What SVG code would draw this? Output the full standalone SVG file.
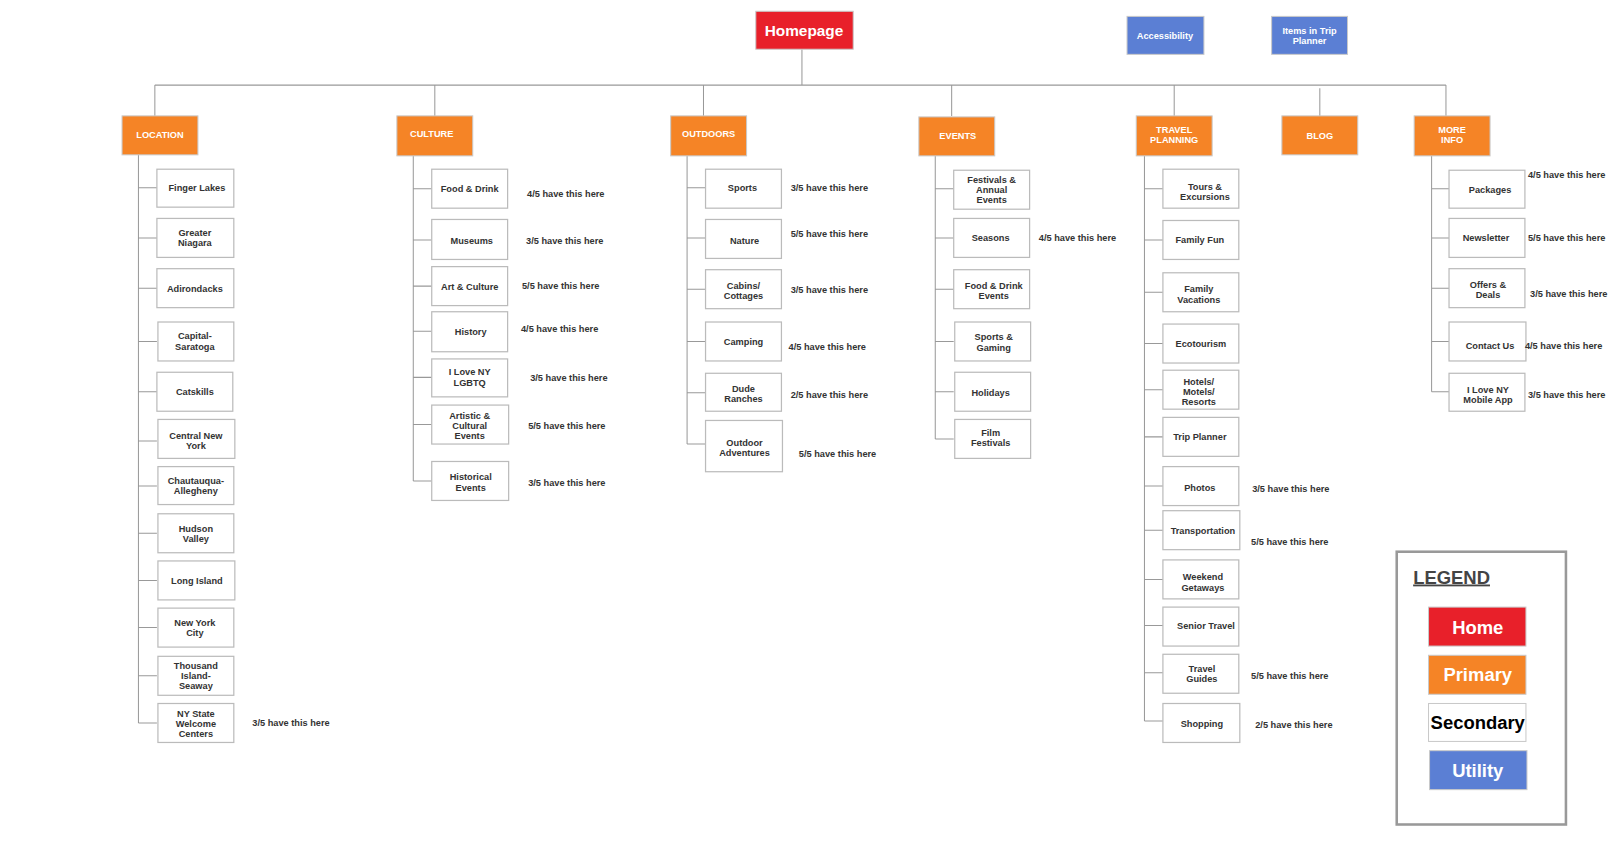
<svg xmlns="http://www.w3.org/2000/svg" width="1608" height="857" viewBox="0 0 1608 857">
<style>
text{font-family:"Liberation Sans",Arial,sans-serif;font-weight:bold;text-anchor:middle}
.s rect{fill:#fff;stroke:#bbb;stroke-width:1.2}
.s text{font-size:9px;fill:#333}
.p rect{fill:#f58426;stroke:#c9c9c9;stroke-width:1}
.p text{font-size:9px;fill:#fff}
.u rect{fill:#5b7fd4;stroke:#c9c9c9}
.u text{font-size:9px;fill:#fff}
.n{font-size:9px;fill:#333;text-anchor:start}
#conn path{stroke:#999;stroke-width:1;fill:none}
</style>
<rect width="1608" height="857" fill="#fff"/>
<g transform="scale(1.0255)">
<g id="conn">
<path d="M782 48V83M151 83H1410M151 83V113M424 83V113M686 83V113M928 83V113M1145 83V113M1287 86V113M1410 83V113"/>
<path d="M135 151V705M135 183H153M135 232H153M135 281H153M135 333H153M135 382H153M135 430H153M135 474H153M135 520H153M135 566H153M135 612H153M135 659H153M135 705H153"/>
<path d="M403 152V469M403 184H421M403 234H421M403 279H421M403 323H421M403 368H421M403 414H421M403 469H421"/>
<path d="M670 152V433M670 183H688M670 232H688M670 282H688M670 333H688M670 383H688M670 433H688"/>
<path d="M912 152V428M912 184H930M912 232H930M912 282H930M912 333H930M912 382H930M912 428H930"/>
<path d="M1116 152V703M1116 184H1134M1116 234H1134M1116 285H1134M1116 335H1134M1116 380H1134M1116 426H1134M1116 474H1134M1116 517H1134M1116 565H1134M1116 610H1134M1116 656H1134M1116 703H1134"/>
<path d="M1396 152V382M1396 184H1413M1396 232H1413M1396 281H1413M1396 333H1413M1396 382H1413"/>
</g>
<g id="homepage"><rect x="737" y="11" width="95" height="37" fill="#e8202a" stroke="#c9c9c9"/><text x="784" y="35" font-size="15" fill="#fff">Homepage</text></g>
<g id="accessibility" class="u"><rect x="1099" y="16" width="75" height="37"/><text x="1136" y="38">Accessibility</text></g>
<g id="trip-items" class="u"><rect x="1240" y="16" width="74" height="37"/><text x="1277" y="33">Items in Trip</text><text x="1277" y="43">Planner</text></g>
<g id="location" class="p"><rect x="119" y="113" width="74" height="38"/><text x="156" y="135">LOCATION</text></g>
<g id="culture" class="p"><rect x="387" y="113" width="74" height="39"/><text x="421" y="134">CULTURE</text></g>
<g id="outdoors" class="p"><rect x="654" y="113" width="74" height="39"/><text x="691" y="134">OUTDOORS</text></g>
<g id="events" class="p"><rect x="896" y="114" width="74" height="38"/><text x="934" y="136">EVENTS</text></g>
<g id="travel" class="p"><rect x="1108" y="113" width="74" height="39"/><text x="1145" y="130">TRAVEL</text><text x="1145" y="139">PLANNING</text></g>
<g id="blog" class="p"><rect x="1250" y="113" width="74" height="38"/><text x="1287" y="136">BLOG</text></g>
<g id="moreinfo" class="p"><rect x="1379" y="113" width="74" height="39"/><text x="1416" y="130">MORE</text><text x="1416" y="139">INFO</text></g>

<g class="s">
<g id="l1"><rect x="153" y="165" width="75" height="37"/><text x="192" y="186">Finger Lakes</text></g>
<g id="l2"><rect x="153" y="213" width="75" height="38"/><text x="190" y="230">Greater</text><text x="190" y="240">Niagara</text></g>
<g id="l3"><rect x="153" y="262" width="75" height="38"/><text x="190" y="285">Adirondacks</text></g>
<g id="l4"><rect x="154" y="314" width="74" height="38"/><text x="190" y="331">Capital-</text><text x="190" y="341">Saratoga</text></g>
<g id="l5"><rect x="153" y="363" width="74" height="38"/><text x="190" y="385">Catskills</text></g>
<g id="l6"><rect x="154" y="409" width="75" height="38"/><text x="191" y="428">Central New</text><text x="191" y="438">York</text></g>
<g id="l7"><rect x="154" y="455" width="74" height="37"/><text x="191" y="472">Chautauqua-</text><text x="191" y="482">Allegheny</text></g>
<g id="l8"><rect x="154" y="501" width="74" height="38"/><text x="191" y="519">Hudson</text><text x="191" y="529">Valley</text></g>
<g id="l9"><rect x="154" y="547" width="75" height="38"/><text x="192" y="569">Long Island</text></g>
<g id="l10"><rect x="154" y="593" width="74" height="38"/><text x="190" y="610">New York</text><text x="190" y="620">City</text></g>
<g id="l11"><rect x="154" y="640" width="74" height="38"/><text x="191" y="652">Thousand</text><text x="191" y="662">Island-</text><text x="191" y="672">Seaway</text></g>
<g id="l12"><rect x="154" y="686" width="74" height="38"/><text x="191" y="699">NY State</text><text x="191" y="709">Welcome</text><text x="191" y="719">Centers</text></g>

<g id="c1"><rect x="421" y="165" width="74" height="38"/><text x="458" y="187">Food &amp; Drink</text></g>
<g id="c2"><rect x="421" y="214" width="74" height="39"/><text x="460" y="238">Museums</text></g>
<g id="c3"><rect x="421" y="260" width="74" height="38"/><text x="458" y="283">Art &amp; Culture</text></g>
<g id="c4"><rect x="421" y="304" width="74" height="39"/><text x="459" y="327">History</text></g>
<g id="c5"><rect x="421" y="350" width="74" height="37"/><text x="458" y="366">I Love NY</text><text x="458" y="376">LGBTQ</text></g>
<g id="c6"><rect x="421" y="395" width="75" height="38"/><text x="458" y="409">Artistic &amp;</text><text x="458" y="418">Cultural</text><text x="458" y="428">Events</text></g>
<g id="c7"><rect x="421" y="450" width="75" height="38"/><text x="459" y="468">Historical</text><text x="459" y="479">Events</text></g>

<g id="o1"><rect x="688" y="165" width="74" height="38"/><text x="724" y="186">Sports</text></g>
<g id="o2"><rect x="688" y="214" width="74" height="38"/><text x="726" y="238">Nature</text></g>
<g id="o3"><rect x="688" y="263" width="74" height="38"/><text x="725" y="282">Cabins/</text><text x="725" y="292">Cottages</text></g>
<g id="o4"><rect x="688" y="314" width="74" height="38"/><text x="725" y="336">Camping</text></g>
<g id="o5"><rect x="688" y="364" width="74" height="37"/><text x="725" y="382">Dude</text><text x="725" y="392">Ranches</text></g>
<g id="o6"><rect x="688" y="410" width="75" height="50"/><text x="726" y="435">Outdoor</text><text x="726" y="445">Adventures</text></g>

<g id="e1"><rect x="930" y="166" width="74" height="38"/><text x="967" y="178">Festivals &amp;</text><text x="967" y="188">Annual</text><text x="967" y="198">Events</text></g>
<g id="e2"><rect x="930" y="213" width="74" height="38"/><text x="966" y="235">Seasons</text></g>
<g id="e3"><rect x="930" y="263" width="74" height="38"/><text x="969" y="282">Food &amp; Drink</text><text x="969" y="292">Events</text></g>
<g id="e4"><rect x="931" y="314" width="74" height="38"/><text x="969" y="332">Sports &amp;</text><text x="969" y="342">Gaming</text></g>
<g id="e5"><rect x="931" y="363" width="74" height="38"/><text x="966" y="386">Holidays</text></g>
<g id="e6"><rect x="931" y="409" width="74" height="38"/><text x="966" y="425">Film</text><text x="966" y="435">Festivals</text></g>

<g id="t1"><rect x="1134" y="165" width="74" height="38"/><text x="1175" y="185">Tours &amp;</text><text x="1175" y="195">Excursions</text></g>
<g id="t2"><rect x="1134" y="215" width="74" height="38"/><text x="1170" y="237">Family Fun</text></g>
<g id="t3"><rect x="1134" y="266" width="74" height="38"/><text x="1169" y="285">Family</text><text x="1169" y="295">Vacations</text></g>
<g id="t4"><rect x="1134" y="316" width="74" height="38"/><text x="1171" y="338">Ecotourism</text></g>
<g id="t5"><rect x="1134" y="361" width="74" height="38"/><text x="1169" y="375">Hotels/</text><text x="1169" y="385">Motels/</text><text x="1169" y="395">Resorts</text></g>
<g id="t6"><rect x="1134" y="407" width="74" height="38"/><text x="1170" y="429">Trip Planner</text></g>
<g id="t7"><rect x="1134" y="455" width="74" height="38"/><text x="1170" y="479">Photos</text></g>
<g id="t8"><rect x="1134" y="498" width="75" height="38"/><text x="1173" y="521">Transportation</text></g>
<g id="t9"><rect x="1134" y="546" width="74" height="38"/><text x="1173" y="566">Weekend</text><text x="1173" y="576">Getaways</text></g>
<g id="t10"><rect x="1134" y="592" width="74" height="38"/><text x="1176" y="613">Senior Travel</text></g>
<g id="t11"><rect x="1134" y="638" width="74" height="38"/><text x="1172" y="655">Travel</text><text x="1172" y="665">Guides</text></g>
<g id="t12"><rect x="1134" y="686" width="75" height="38"/><text x="1172" y="709">Shopping</text></g>

<g id="m1"><rect x="1413" y="166" width="74" height="37"/><text x="1453" y="188">Packages</text></g>
<g id="m2"><rect x="1413" y="213" width="74" height="38"/><text x="1449" y="235">Newsletter</text></g>
<g id="m3"><rect x="1413" y="262" width="74" height="38"/><text x="1451" y="281">Offers &amp;</text><text x="1451" y="291">Deals</text></g>
<g id="m4"><rect x="1413" y="314" width="75" height="38"/><text x="1453" y="340">Contact Us</text></g>
<g id="m5"><rect x="1413" y="364" width="74" height="37"/><text x="1451" y="383">I Love NY</text><text x="1451" y="393">Mobile App</text></g>
</g>

<g id="notes">
<text class="n" x="246" y="708">3/5 have this here</text>
<text class="n" x="514" y="192">4/5 have this here</text>
<text class="n" x="513" y="238">3/5 have this here</text>
<text class="n" x="509" y="282">5/5 have this here</text>
<text class="n" x="508" y="324">4/5 have this here</text>
<text class="n" x="517" y="372">3/5 have this here</text>
<text class="n" x="515" y="418">5/5 have this here</text>
<text class="n" x="515" y="474">3/5 have this here</text>
<text class="n" x="771" y="186">3/5 have this here</text>
<text class="n" x="771" y="231">5/5 have this here</text>
<text class="n" x="771" y="286">3/5 have this here</text>
<text class="n" x="769" y="341">4/5 have this here</text>
<text class="n" x="771" y="388">2/5 have this here</text>
<text class="n" x="779" y="446">5/5 have this here</text>
<text class="n" x="1013" y="235">4/5 have this here</text>
<text class="n" x="1221" y="480">3/5 have this here</text>
<text class="n" x="1220" y="531">5/5 have this here</text>
<text class="n" x="1220" y="662">5/5 have this here</text>
<text class="n" x="1224" y="710">2/5 have this here</text>
<text class="n" x="1490" y="174">4/5 have this here</text>
<text class="n" x="1490" y="235">5/5 have this here</text>
<text class="n" x="1492" y="290">3/5 have this here</text>
<text class="n" x="1487" y="340">4/5 have this here</text>
<text class="n" x="1490" y="388">3/5 have this here</text>
</g>

<g id="legend">
<rect x="1362" y="538" width="165" height="266" fill="#fff" stroke="#999" stroke-width="2.5"/>
<text x="1378" y="569" font-size="18" fill="#444" text-decoration="underline" style="text-anchor:start">LEGEND</text>
<rect x="1393" y="592" width="95" height="38" fill="#e8202a" stroke="#c9c9c9"/><text x="1441" y="618" font-size="18" fill="#fff">Home</text>
<rect x="1393" y="639" width="95" height="38" fill="#f58426" stroke="#c9c9c9"/><text x="1441" y="664" font-size="18" fill="#fff">Primary</text>
<rect x="1393" y="686" width="95" height="37" fill="#fff" stroke="#c9c9c9"/><text x="1441" y="711" font-size="18" fill="#000">Secondary</text>
<rect x="1394" y="732" width="95" height="38" fill="#5b7fd4" stroke="#c9c9c9"/><text x="1441" y="758" font-size="18" fill="#fff">Utility</text>
</g>
</g>
</svg>
